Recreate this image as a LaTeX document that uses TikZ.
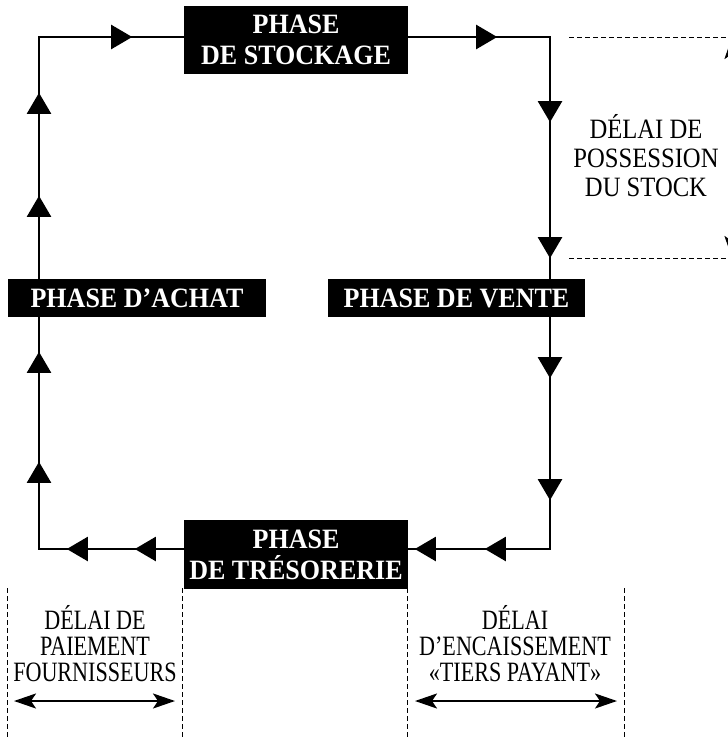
\documentclass[tikz,border=0pt]{standalone}
\usepackage{fontspec}
\setmainfont{Liberation Serif}
\newfontfamily\boxfont[FakeStretch=0.93]{Liberation Serif}
\newfontfamily\rightfont[FakeStretch=0.88]{Liberation Serif}
\newfontfamily\bottomfont[FakeStretch=0.79]{Liberation Serif}
\usetikzlibrary{arrows.meta,decorations.markings}
\pgfkeys{/pgf/decoration/tipat/.style={mark=at position #1 with {\arrow{Triangle[length=21pt,width=24pt]}}}}
\tikzset{
  phasebox/.style={fill=black, text=white, font=\boxfont\fontsize{28}{31}\selectfont\bfseries, inner sep=0pt, align=center},
  flow/.style={line width=2.2pt},
  rightlabel/.style={font=\rightfont\fontsize{28}{29}\selectfont, align=center, inner sep=0pt},
  bottomlabel/.style={font=\bottomfont\fontsize{28}{26}\selectfont, align=center, inner sep=0pt},
  dashline/.style={line width=0.9pt, dash pattern=on 5pt off 3pt},
  span/.style={line width=2.2pt, {Stealth[length=22pt,width=15pt,inset=5pt]}-{Stealth[length=22pt,width=15pt,inset=5pt]}},
}
\begin{document}
\begin{tikzpicture}[x=1pt,y=-1pt]
\useasboundingbox (0,0) rectangle (728,739);
\clip (0,0) rectangle (728,739);
% corners
\coordinate (tl) at (39,37);
\coordinate (tr) at (550,37);
\coordinate (br) at (550,549);
\coordinate (bl) at (39,549);
% boxes
\node[phasebox, minimum width=224pt, minimum height=68pt] (stock) at (296,40) {PHASE\\DE STOCKAGE};
\node[phasebox, minimum width=258pt, minimum height=38pt] (achat) at (137,298) {PHASE D’ACHAT};
\node[phasebox, minimum width=257pt, minimum height=38pt] (vente) at (456.5,298) {PHASE DE VENTE};
\node[phasebox, minimum width=224pt, minimum height=69pt] (tres) at (296,554.5) {PHASE\\DE TRÉSORERIE};
% flow lines
\draw[flow, postaction={decorate, decoration={markings, tipat=83pt, tipat=186pt, tipat=335pt}}]
  (achat.north -| tl) -- (tl) -- (stock.west |- tl);
\draw[flow, postaction={decorate, decoration={markings, tipat=89pt, tipat=227pt, tipat=363pt}}]
  (stock.east |- tr) -- (tr) -- (vente.north -| tr);
\draw[flow, postaction={decorate, decoration={markings, tipat=61pt, tipat=183pt, tipat=297pt, tipat=367pt}}]
  (vente.south -| br) -- (br) -- (tres.east |- br);
\draw[flow, postaction={decorate, decoration={markings, tipat=49pt, tipat=117pt, tipat=232pt, tipat=342pt}}]
  (tres.west |- bl) -- (bl) -- (achat.south -| bl);
% right side: stock holding period
\coordinate (h1a) at (569,37);
\coordinate (h1b) at (728,37);
\coordinate (h2a) at (569,258);
\coordinate (h2b) at (728,258);
\draw[dashline] (h1a) -- (h1b);
\draw[dashline] (h2a) -- (h2b);
\coordinate (va) at (732,37);
\coordinate (vb) at (732,258);
\draw[span] (va) -- (vb);
\node[rightlabel] (possession) at (646,155.5) {DÉLAI DE\\POSSESSION\\DU STOCK};
% bottom periods
\coordinate (d1t) at (7,588);   \coordinate (d1b) at (7,739);
\coordinate (d2t) at (182,588); \coordinate (d2b) at (182,739);
\coordinate (d3t) at (407,588); \coordinate (d3b) at (407,739);
\coordinate (d4t) at (624,588); \coordinate (d4b) at (624,739);
\draw[dashline] (d1t) -- (d1b);
\draw[dashline] (d2t) -- (d2b);
\draw[dashline] (d3t) -- (d3b);
\draw[dashline] (d4t) -- (d4b);
\node[bottomlabel] (paiement) at (95,643.5) {DÉLAI DE\\PAIEMENT\\FOURNISSEURS};
\node[bottomlabel] (encaiss) at (515,643.5) {DÉLAI\\D’ENCAISSEMENT\\«TIERS PAYANT»};
\coordinate (p1) at (14,701);  \coordinate (p2) at (175,701);
\coordinate (e1) at (415,701); \coordinate (e2) at (617,701);
\draw[span] (p1) -- (p2);
\draw[span] (e1) -- (e2);
\end{tikzpicture}
\end{document}
